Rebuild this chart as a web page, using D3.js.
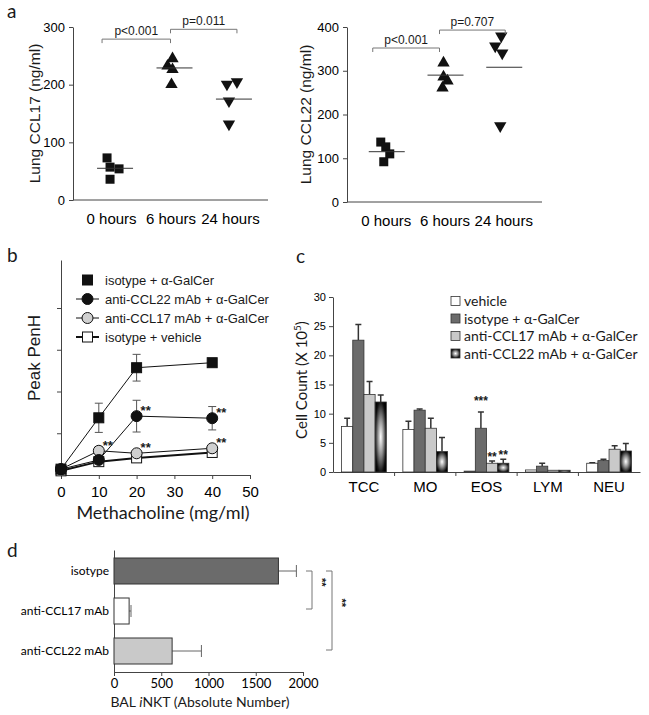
<!DOCTYPE html>
<html>
<head>
<meta charset="utf-8">
<script src="https://cdn.jsdelivr.net/npm/d3@7"></script>
<style>
body { margin: 0; background: #fff; }
svg text { font-family: "Liberation Sans", Arial, sans-serif; fill: #1a1a1a; }
.narrow text, text.narrow { font-family: "Liberation Sans Narrow", "Liberation Sans", Arial, sans-serif; }
.hum text, text.hum { font-family: Lato, "Open Sans", sans-serif; }
.axis path, .axis line { stroke: #444; }
</style>
</head>
<body>
<svg width="649" height="715"></svg>
<script>
// ---- panel a
var timeCats = ["0 hours", "6 hours", "24 hours"];
var ccl17 = [[73, 57, 54, 36], [247, 234, 228, 202], [199, 203, 170, 130]];
var ccl17Means = [55, 229, 175];
var ccl22 = [[137, 126, 110, 92], [320, 288, 279, 263], [377, 354, 338, 172]];
var ccl22Means = [115, 290, 308];
var ccl17Ticks = [0, 100, 200, 300];
var ccl22Ticks = [0, 100, 200, 300, 400];
var ccl17P = ["p<0.001", "p=0.011"];
var ccl22P = ["p<0.001", "p=0.707"];

// ---- panel b
var doses = [0, 10, 20, 40];
var doseTicks = [0, 10, 20, 30, 40, 50];
var bSeries = ["isotype + α-GalCer", "anti-CCL22 mAb + α-GalCer", "anti-CCL17 mAb + α-GalCer", "isotype + vehicle"];
var penhIsoGal = [0.14, 1.37, 2.57, 2.69];
var penhIsoGalErr = [0, 0.35, 0.32, 0];
var penhAnti22 = [0.14, 0.36, 1.41, 1.36];
var penhAnti22Err = [0, 0, 0.38, 0.28];
var penhAnti17 = [0.14, 0.58, 0.52, 0.64];
var penhAnti17Err = [0, 0.1, 0, 0];
var penhVeh = [0.10, 0.32, 0.41, 0.54];
var penhVehErr = [0, 0, 0, 0];

// ---- panel c
var cellCats = ["TCC", "MO", "EOS", "LYM", "NEU"];
var cSeries = ["vehicle", "isotype + α-GalCer", "anti-CCL17 mAb + α-GalCer", "anti-CCL22 mAb + α-GalCer"];
var cellVehicle = [7.8, 7.3, 0.15, 0.35, 1.5];
var cellVehicleErr = [1.4, 1.4, 0, 0, 0.1];
var cellIsotype = [22.6, 10.6, 7.5, 1.0, 1.95];
var cellIsotypeErr = [2.7, 0.2, 2.8, 0.5, 0.25];
var cellAnti17 = [13.3, 7.5, 1.5, 0.3, 3.9];
var cellAnti17Err = [2.2, 1.7, 0.4, 0, 0.6];
var cellAnti22 = [12.0, 3.5, 1.5, 0.3, 3.6];
var cellAnti22Err = [1.2, 2.4, 0.7, 0, 1.3];
var cellTicks = [0, 5, 10, 15, 20, 25, 30];

// ---- panel d
var nktCats = ["isotype", "anti-CCL17 mAb", "anti-CCL22 mAb"];
var nktVals = [1740, 160, 615];
var nktErr = [190, 20, 310];
var nktTicks = [0, 500, 1000, 1500, 2000];

var svg = d3.select("svg");
var defs = svg.append("defs");
var grad = defs.append("radialGradient").attr("id", "glow")
    .attr("cx", 0.5).attr("cy", 0.5).attr("r", 0.6);
grad.append("stop").attr("offset", "0%").attr("stop-color", "#ffffff");
grad.append("stop").attr("offset", "45%").attr("stop-color", "#8a8a8a");
grad.append("stop").attr("offset", "85%").attr("stop-color", "#111");
grad.append("stop").attr("offset", "100%").attr("stop-color", "#000");

function panelLetter(t, x, y) {
    svg.append("text").attr("class", "hum").attr("x", x).attr("y", y)
        .style("font-size", "19px").text(t);
}
panelLetter("a", 7, 18);
panelLetter("b", 7, 262);
panelLetter("c", 296, 263);
panelLetter("d", 7, 557);

var triUp = d3.symbol().type(d3.symbolTriangle).size(66);

// ================= panel a =================
function scatterPanel(opts) {
    var g = svg.append("g");
    var x = d3.scalePoint().domain(timeCats).range([opts.left, opts.right]).padding(opts.pad);
    var y = d3.scaleLinear().domain([0, opts.max]).range([opts.bottom, opts.top]);

    g.append("g").attr("class", "axis narrow")
        .attr("transform", "translate(" + opts.left + ",0)")
        .call(d3.axisLeft(y).tickValues(opts.ticks).tickSize(4).tickSizeOuter(0).tickPadding(4))
        .selectAll("text").style("font-size", "13px").style("fill", "#000");

    var xa = g.append("g").attr("class", "axis narrow")
        .attr("transform", "translate(0," + opts.bottom + ")")
        .call(d3.axisBottom(x).tickSize(0).tickPadding(13));
    xa.selectAll("text").style("font-size", "15px").style("fill", "#000");
    xa.select(".domain").attr("d", "M" + opts.left + ",0H" + opts.right);

    g.append("text")
        .attr("transform", "translate(" + opts.labelX + "," + ((opts.top + opts.bottom) / 2) + ") rotate(-90)")
        .attr("text-anchor", "middle")
        .style("font-size", "15.5px")
        .text(opts.label);

    opts.values.forEach(function(vals, ci) {
        vals.forEach(function(v, i) {
            var px = x(timeCats[ci]) + opts.jitter[ci][i];
            var py = y(v);
            if (ci === 0) {
                g.append("rect").attr("x", px - 4.5).attr("y", py - 4.5)
                    .attr("width", 9).attr("height", 9).attr("fill", "#111");
            } else {
                g.append("path").attr("d", triUp())
                    .attr("transform", "translate(" + px + "," + (py + (ci === 1 ? 1 : -1)) + ")" + (ci === 2 ? " rotate(180)" : ""))
                    .attr("fill", "#111");
            }
        });
        var mx = x(timeCats[ci]) + opts.meanShift;
        g.append("line").attr("x1", mx - 18).attr("x2", mx + 18)
            .attr("y1", y(opts.means[ci])).attr("y2", y(opts.means[ci]))
            .attr("stroke", "#333").attr("stroke-width", 1);
    });

    opts.brackets.forEach(function(b, i) {
        var x1 = x(timeCats[b.from]) + b.dx1;
        var x2 = x(timeCats[b.to]) + b.dx2;
        var by = y(b.level);
        g.append("path")
            .attr("d", "M" + x1 + "," + (by + 4) + "V" + by + "H" + x2 + "V" + (by + 4))
            .attr("fill", "none").attr("stroke", "#777").attr("stroke-width", 1);
        g.append("text").attr("class", "narrow")
            .attr("x", (x1 + x2) / 2).attr("y", by - 4)
            .attr("text-anchor", "middle").style("font-size", "12px")
            .text(opts.pvals[i]);
    });
}

scatterPanel({
    left: 73, right: 268, top: 27, bottom: 200, pad: 0.64, max: 300,
    ticks: ccl17Ticks, values: ccl17, means: ccl17Means, pvals: ccl17P,
    label: "Lung CCL17 (ng/ml)", labelX: 40, meanShift: 4,
    jitter: [[-4, -1, 8, -1], [2, -3, 2, 1], [-3, 7, -1, -1]],
    brackets: [{from: 0, to: 1, level: 279, dx1: -9, dx2: 0}, {from: 1, to: 2, level: 296, dx1: 0, dx2: 7}]
});
scatterPanel({
    left: 347, right: 542, top: 27, bottom: 202, pad: 0.66, max: 400,
    ticks: ccl22Ticks, values: ccl22, means: ccl22Means, pvals: ccl22P,
    label: "Lung CCL22 (ng/ml)", labelX: 311, meanShift: 1,
    jitter: [[-5, 0, 4, -2], [-1, -1, 3, -2], [-2, -8, -1, -3]],
    brackets: [{from: 0, to: 1, level: 352, dx1: -13, dx2: -5}, {from: 1, to: 2, level: 393, dx1: -5, dx2: 2}]
});

// ================= panel b =================
var xB = d3.scaleLinear().domain([0, 50]).range([61, 250]);
var yB = d3.scaleLinear().domain([0, 5.15]).range([475, 260]);
var gB = svg.append("g");

gB.append("g").attr("class", "axis")
    .attr("transform", "translate(61,0)")
    .call(d3.axisLeft(yB).tickValues([1, 2, 3, 4]).tickFormat("").tickSize(4).tickSizeOuter(0));
gB.append("g").attr("class", "axis narrow")
    .attr("transform", "translate(0,475)")
    .call(d3.axisBottom(xB).tickValues(doseTicks).tickSize(4).tickSizeOuter(0).tickPadding(7))
    .selectAll("text").style("font-size", "15px").style("fill", "#000");
gB.append("text").attr("class", "hum")
    .attr("x", 163).attr("y", 519).attr("text-anchor", "middle")
    .style("font-size", "18px").text("Methacholine (mg/ml)");
gB.append("text")
    .attr("transform", "translate(40,358) rotate(-90)")
    .attr("text-anchor", "middle").style("font-size", "17px").text("Peak PenH");

var bData = [
    {vals: penhIsoGal, err: penhIsoGalErr, shape: "square", fill: "#111", lw: 1},
    {vals: penhAnti22, err: penhAnti22Err, shape: "circle", fill: "#111", lw: 1},
    {vals: penhAnti17, err: penhAnti17Err, shape: "circle", fill: "#d0d0d0", lw: 1},
    {vals: penhVeh, err: penhVehErr, shape: "square", fill: "#fff", lw: 2}
];
var lineB = d3.line().x(function(d, i) { return xB(doses[i]); }).y(function(d) { return yB(d); });

function marker(g, shape, fill, cx, cy) {
    if (shape === "square") {
        g.append("rect").attr("x", cx - 5).attr("y", cy - 5).attr("width", 10).attr("height", 10)
            .attr("fill", fill).attr("stroke", "#111").attr("stroke-width", 1);
    } else {
        g.append("circle").attr("cx", cx).attr("cy", cy).attr("r", 5.5)
            .attr("fill", fill).attr("stroke", "#111").attr("stroke-width", 1);
    }
}

// back to front: vehicle, anti17, anti22, isotype
[3, 2, 1, 0].forEach(function(si) {
    var s = bData[si];
    gB.append("path").attr("d", lineB(s.vals)).attr("fill", "none")
        .attr("stroke", "#111").attr("stroke-width", s.lw);
    s.vals.forEach(function(v, i) {
        if (s.err[i] > 0) {
            var cx = xB(doses[i]);
            gB.append("path")
                .attr("d", "M" + cx + "," + yB(v - s.err[i]) + "V" + yB(v + s.err[i]) +
                    "M" + (cx - 4) + "," + yB(v + s.err[i]) + "H" + (cx + 4) +
                    "M" + (cx - 4) + "," + yB(v - s.err[i]) + "H" + (cx + 4))
                .attr("stroke", "#555").attr("fill", "none");
        }
    });
    s.vals.forEach(function(v, i) {
        marker(gB, s.shape, s.fill, xB(doses[i]), yB(v));
    });
});

var bStars = [[2, 1], [1, 2], [2, 2], [1, 3], [2, 3]];
bStars.forEach(function(st) {
    var s = bData[st[0]];
    gB.append("text").attr("x", xB(doses[st[1]]) + 4).attr("y", yB(s.vals[st[1]]) - 1)
        .style("font-size", "13px").style("font-weight", "bold").text("**");
});

bSeries.forEach(function(name, i) {
    var ly = 280 + i * 19;
    if (i > 0) {
        gB.append("line").attr("x1", 76).attr("x2", 99).attr("y1", ly).attr("y2", ly)
            .attr("stroke", "#111").attr("stroke-width", bData[i].lw);
    }
    marker(gB, bData[i].shape, bData[i].fill, 87.5, ly);
    gB.append("text").attr("x", 105).attr("y", ly + 5).style("font-size", "13px").text(name);
});

// ================= panel c =================
var gC = svg.append("g");
var xC = d3.scaleBand().domain(cellCats).range([333, 640]).paddingInner(0.27).paddingOuter(0.14);
var xSub = d3.scaleBand().domain(d3.range(4)).range([0, xC.bandwidth()]);
var yC = d3.scaleLinear().domain([0, 30]).range([472, 297]);

gC.append("g").attr("class", "axis narrow")
    .attr("transform", "translate(333,0)")
    .call(d3.axisLeft(yC).tickValues(cellTicks).tickSize(4).tickSizeOuter(0).tickPadding(3))
    .selectAll("text").style("font-size", "11px").style("fill", "#000");
var xaC = gC.append("g").attr("class", "axis narrow")
    .attr("transform", "translate(0,472)")
    .call(d3.axisBottom(xC).tickSize(0).tickPadding(9));
xaC.selectAll("text").style("font-size", "15px").style("fill", "#000");
cellCats.slice(1).forEach(function(c) {
    var tx = xC(c) - xC.step() * xC.paddingInner() / 2;
    gC.append("line").attr("x1", tx).attr("x2", tx).attr("y1", 472).attr("y2", 476).attr("stroke", "#444");
});

gC.append("text").attr("class", "hum")
    .attr("transform", "translate(307,380) rotate(-90)")
    .attr("text-anchor", "middle").style("font-size", "15px")
    .html('Cell Count (X 10<tspan dy="-6" style="font-size:10px">5</tspan><tspan dy="6">)</tspan>');

var cData = [
    {vals: cellVehicle, err: cellVehicleErr, fill: "#fff"},
    {vals: cellIsotype, err: cellIsotypeErr, fill: "#6b6b6b"},
    {vals: cellAnti17, err: cellAnti17Err, fill: "#c9c9c9"},
    {vals: cellAnti22, err: cellAnti22Err, fill: "url(#glow)"}
];
cData.forEach(function(s, si) {
    cellCats.forEach(function(c, ci) {
        var bx = xC(c) + xSub(si);
        var v = s.vals[ci];
        var e = s.err[ci];
        if (e > 0) {
            var ex = bx + xSub.bandwidth() / 2;
            gC.append("path")
                .attr("d", "M" + ex + "," + yC(v) + "V" + yC(v + e) + "M" + (ex - 3) + "," + yC(v + e) + "H" + (ex + 3))
                .attr("stroke", "#333").attr("stroke-width", 1.5).attr("fill", "none");
        }
        gC.append("rect").attr("x", bx).attr("y", yC(v))
            .attr("width", xSub.bandwidth()).attr("height", yC(0) - yC(v))
            .attr("fill", s.fill).attr("stroke", "#333").attr("stroke-width", 0.8);
    });
});

var cStars = [{cat: "EOS", s: 1, t: "***"}, {cat: "EOS", s: 2, t: "**"}, {cat: "EOS", s: 3, t: "**"}];
cStars.forEach(function(st) {
    var s = cData[st.s];
    var ci = cellCats.indexOf(st.cat);
    gC.append("text")
        .attr("x", xC(st.cat) + xSub(st.s) + xSub.bandwidth() / 2)
        .attr("y", yC(s.vals[ci] + s.err[ci]) - (st.t.length === 3 ? 7 : 0))
        .attr("text-anchor", "middle").style("font-size", "12px").style("font-weight", "bold")
        .text(st.t);
});

cSeries.forEach(function(name, i) {
    var ly = 301 + i * 17.5;
    gC.append("rect").attr("x", 451).attr("y", ly - 4.5).attr("width", 9).attr("height", 9)
        .attr("fill", cData[i].fill).attr("stroke", "#333").attr("stroke-width", 0.8);
    gC.append("text").attr("class", "hum").attr("x", 464).attr("y", ly + 5)
        .style("font-size", "14px").text(name);
});

// ================= panel d =================
var gD = svg.append("g");
var xD = d3.scaleLinear().domain([0, 2000]).range([114, 303]);
var yD = d3.scaleBand().domain(nktCats).range([550, 672]).paddingInner(0.35).paddingOuter(0.2);

gD.append("g").attr("class", "axis hum")
    .attr("transform", "translate(0,672)")
    .call(d3.axisBottom(xD).tickValues(nktTicks).tickFormat(d3.format("d")).tickSize(4).tickSizeOuter(0).tickPadding(3))
    .selectAll("text").style("font-size", "13px").style("fill", "#000");
gD.append("g").attr("class", "axis hum")
    .attr("transform", "translate(114,0)")
    .call(d3.axisLeft(yD).tickSize(0).tickPadding(5).tickSizeOuter(0))
    .selectAll("text").style("font-size", "12px").style("fill", "#000");

gD.append("text").attr("class", "hum")
    .attr("x", 200).attr("y", 707).attr("text-anchor", "middle").style("font-size", "14px")
    .html('BAL <tspan font-style="italic">i</tspan>NKT (Absolute Number)');

var dFill = ["#6b6b6b", "#fff", "#c9c9c9"];
nktCats.forEach(function(c, i) {
    var by = yD(c);
    var h = yD.bandwidth();
    var ex = xD(nktVals[i] + nktErr[i]);
    gD.append("path")
        .attr("d", "M" + xD(nktVals[i]) + "," + (by + h / 2) + "H" + ex + "M" + ex + "," + (by + h / 2 - 6) + "V" + (by + h / 2 + 6))
        .attr("stroke", "#666").attr("fill", "none");
    gD.append("rect").attr("x", xD(0)).attr("y", by)
        .attr("width", xD(nktVals[i]) - xD(0)).attr("height", h)
        .attr("fill", dFill[i]).attr("stroke", "#333").attr("stroke-width", 1);
});

function bracket(xv, y1, y2, lbl) {
    gD.append("path")
        .attr("d", "M" + (xv - 6) + "," + y1 + "H" + xv + "V" + y2 + "H" + (xv - 6))
        .attr("fill", "none").attr("stroke", "#777");
    gD.append("text")
        .attr("transform", "translate(" + (xv + 6) + "," + ((y1 + y2) / 2 - 12) + ") rotate(90)")
        .style("font-size", "11px").style("font-weight", "bold").text(lbl);
}
var cy0 = yD(nktCats[0]) + yD.bandwidth() / 2;
bracket(312, cy0, yD(nktCats[1]) + yD.bandwidth() / 2 - 2, "**");
bracket(332, cy0, yD(nktCats[2]) + yD.bandwidth() / 2 - 1, "**");
</script>
</body>
</html>
